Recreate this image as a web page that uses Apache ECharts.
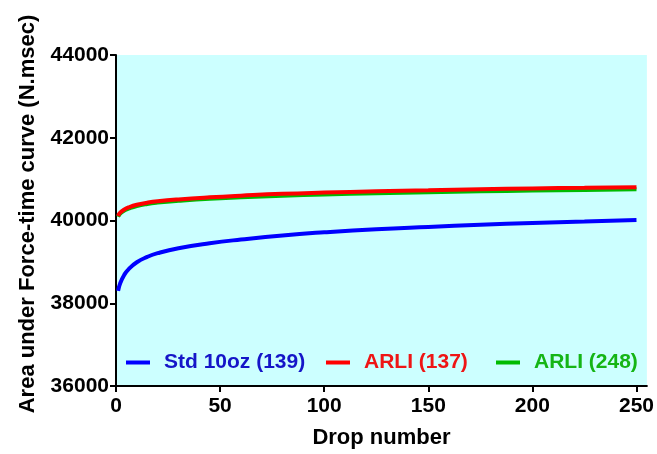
<!DOCTYPE html>
<html>
<head>
<meta charset="utf-8">
<script src="https://cdn.jsdelivr.net/npm/echarts@6/dist/echarts.min.js"></script>
<style>html,body{margin:0;padding:0;background:#fff;}#c{width:657px;height:454px;}</style>
</head>
<body>
<div id="c"></div>
<script>
var drops = [1, 2, 4, 6, 10, 15, 20, 30, 45, 60, 80, 100, 125, 150, 175, 200, 225, 250];
var std10oz = [38300, 38480, 38690, 38820, 38990, 39120, 39210, 39330, 39450, 39540, 39640, 39715, 39790, 39845, 39895, 39940, 39975, 40010];
var arli137 = [40110, 40190, 40265, 40315, 40380, 40430, 40465, 40510, 40560, 40600, 40645, 40675, 40705, 40730, 40755, 40775, 40790, 40805];
var arli248 = [40090, 40165, 40240, 40285, 40350, 40400, 40432, 40475, 40525, 40560, 40600, 40630, 40660, 40685, 40705, 40725, 40740, 40755];
var xTicks = [0, 50, 100, 150, 200, 250];
var yTicks = [36000, 38000, 40000, 42000, 44000];
var seriesNames = ['Std 10oz (139)', 'ARLI (137)', 'ARLI (248)'];

function pairs(ys) { return drops.map(function (x, i) { return [x, ys[i]]; }); }

var FONT = 'Arial, "Liberation Sans", Helvetica, sans-serif';
var chart = echarts.init(document.getElementById('c'));

function legendFor(name, left, textColor) {
  return {
    data: [name], left: left, top: 352, orient: 'horizontal',
    icon: 'rect', itemWidth: 24, itemHeight: 4, padding: 0,
    selectedMode: false,
    textStyle: { color: textColor, fontFamily: FONT, fontWeight: 'bold', fontSize: 21, padding: [0, 0, 0, 9] }
  };
}

function lineSeries(name, ys, color, z) {
  return { name: name, type: 'line', data: pairs(ys), smooth: 0.5, showSymbol: false, symbol: 'none',
    lineStyle: { color: color, width: 4 }, itemStyle: { color: color }, z: z };
}

chart.setOption({
  animation: false,
  backgroundColor: '#ffffff',
  grid: { left: 116, right: 10, top: 55, bottom: 63, show: true, backgroundColor: '#CCFFFF', borderWidth: 0 },
  legend: [
    legendFor(seriesNames[0], 126, '#1515C8'),
    legendFor(seriesNames[1], 326, '#EE1515'),
    legendFor(seriesNames[2], 496, '#15B515')
  ],
  xAxis: {
    type: 'value', min: 0, max: 255, interval: 50,
    name: 'Drop number', nameLocation: 'middle', nameGap: 41,
    nameTextStyle: { fontFamily: FONT, fontWeight: 'bold', fontSize: 22, color: '#000' },
    axisLine: { show: true, onZero: false, lineStyle: { color: '#000', width: 2 } },
    axisTick: { show: true, length: 6, lineStyle: { color: '#000', width: 2 }, customValues: xTicks },
    axisLabel: { fontFamily: FONT, fontWeight: 'bold', fontSize: 21, color: '#000', margin: 10, customValues: xTicks,
      formatter: function (v) { return String(v); } },
    splitLine: { show: false }
  },
  yAxis: {
    type: 'value', min: 36000, max: 44000, interval: 2000,
    axisLine: { show: true, onZero: false, lineStyle: { color: '#000', width: 2 } },
    axisTick: { show: true, length: 6, lineStyle: { color: '#000', width: 2 }, customValues: yTicks },
    axisLabel: { fontFamily: FONT, fontWeight: 'bold', fontSize: 21, color: '#000', margin: 7, customValues: yTicks,
      formatter: function (v) { return String(v); } },
    splitLine: { show: false }
  },
  graphic: [{
    type: 'text', x: 28, y: 214, rotation: Math.PI / 2,
    style: { text: 'Area under Force-time curve (N.msec)', font: 'bold 22px ' + FONT, fill: '#000', align: 'center', verticalAlign: 'middle' }
  }],
  series: [
    lineSeries(seriesNames[0], std10oz, '#0000FF', 2),
    lineSeries(seriesNames[2], arli248, '#00BB00', 2),
    lineSeries(seriesNames[1], arli137, '#FF0000', 3)
  ]
});
</script>
</body>
</html>
